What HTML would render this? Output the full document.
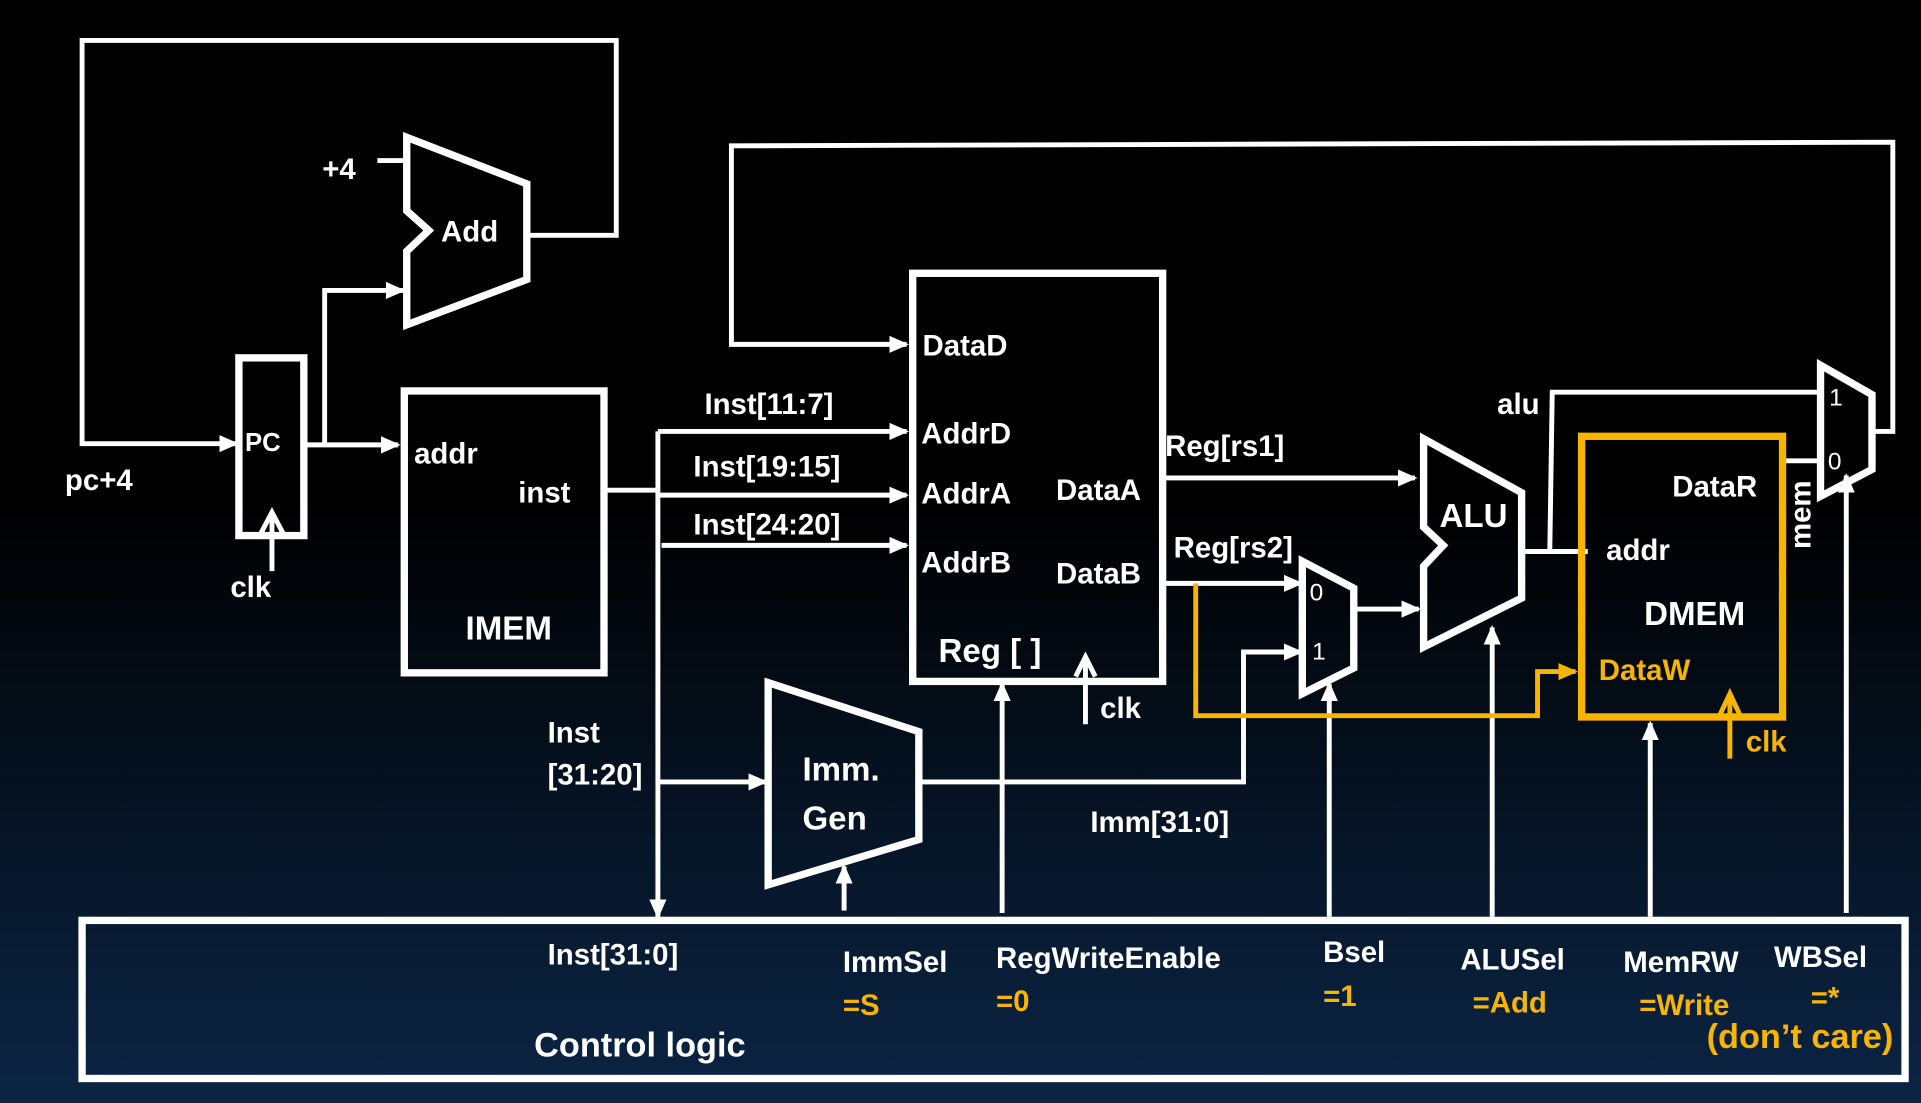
<!DOCTYPE html>
<html><head><meta charset="utf-8"><style>
html,body{margin:0;padding:0;background:#000;}
svg{display:block;}
text{font-family:"Liberation Sans",sans-serif;font-weight:bold;fill:#fff;font-size:24px;}
.o{fill:#f7b500;}
.n{font-weight:normal;font-size:20px;}
</style></head><body>
<svg width="1921" height="1103" viewBox="0 0 1568 900" preserveAspectRatio="none" xmlns="http://www.w3.org/2000/svg">
<defs>
<linearGradient id="bg" x1="0" y1="0" x2="0" y2="1">
<stop offset="0" stop-color="#000"/><stop offset="0.45" stop-color="#000"/><stop offset="1" stop-color="#0b2545"/></linearGradient>
<marker id="a" markerUnits="userSpaceOnUse" markerWidth="18" markerHeight="18" refX="14" refY="9" orient="auto"><path d="M0,2 L16,9 L0,16 Z" fill="#fff"/></marker>
<marker id="ao" markerUnits="userSpaceOnUse" markerWidth="18" markerHeight="18" refX="14" refY="9" orient="auto"><path d="M0,2 L16,9 L0,16 Z" fill="#f7b500"/></marker>
</defs>
<rect width="1568" height="900" fill="url(#bg)"/>
<g fill="none" stroke="#fff" stroke-width="4">
<polyline points="430,192 503,192 503,33 67,33 67,362 193,362" marker-end="url(#a)"/>
<polygon points="332,112 430,150 430,228 332,265 332,205 350,188 332,172" stroke-width="6"/>
<line x1="308" y1="131" x2="332" y2="131"/>
<rect x="195" y="292" width="53" height="145" stroke-width="6"/>
<polyline points="212,437 222,418 232,437"/>
<line x1="222" y1="420" x2="222" y2="466"/>
<line x1="248" y1="363" x2="325" y2="363" marker-end="url(#a)"/>
<polyline points="265,363 265,237 329,237" marker-end="url(#a)"/>
<rect x="330" y="319" width="163" height="230" stroke-width="6"/>
<line x1="493" y1="400" x2="537" y2="400"/>
<line x1="537" y1="352" x2="537" y2="748" marker-end="url(#a)"/>
<line x1="537" y1="352" x2="740" y2="352" marker-end="url(#a)"/>
<line x1="537" y1="404" x2="740" y2="404" marker-end="url(#a)"/>
<line x1="540" y1="445" x2="740" y2="445" marker-end="url(#a)"/>
<line x1="537" y1="638" x2="625" y2="638" marker-end="url(#a)"/>
<rect x="745" y="223" width="204" height="333" stroke-width="6"/>
<polyline points="878,552 886,536 894,552"/>
<line x1="886" y1="538" x2="886" y2="591"/>
<line x1="818" y1="745" x2="818" y2="558" marker-end="url(#a)"/>
<polyline points="1528,352 1545,352 1545,116 597,119 597,281 740,281" marker-end="url(#a)"/>
<line x1="949" y1="390" x2="1155" y2="390" marker-end="url(#a)"/>
<line x1="949" y1="476" x2="1062" y2="476" marker-end="url(#a)"/>
<polygon points="1063,458 1105,480 1105,545 1063,566" stroke-width="6"/>
<polyline points="752,638 1015,638 1015,532 1062,532" marker-end="url(#a)"/>
<line x1="1105" y1="497" x2="1158" y2="497" marker-end="url(#a)"/>
<line x1="1085" y1="748" x2="1085" y2="558" marker-end="url(#a)"/>
<polygon points="1162,358 1242,402 1242,488 1162,528 1162,462 1178,445 1162,430" stroke-width="6"/>
<line x1="1218" y1="748" x2="1218" y2="512" marker-end="url(#a)"/>
<line x1="1242" y1="450" x2="1296" y2="450"/>
<polyline points="1265,450 1267,320 1486,320"/>
<line x1="1455" y1="376" x2="1486" y2="376"/>
<polygon points="1486,298 1528,322 1528,383 1486,405" stroke-width="6"/>
<line x1="1507" y1="745" x2="1507" y2="388" marker-end="url(#a)"/>
<line x1="1347" y1="748" x2="1347" y2="590" marker-end="url(#a)"/>
<polygon points="627,557 750,597 750,685 627,722" stroke-width="6"/>
<line x1="689" y1="743" x2="689" y2="707" marker-end="url(#a)"/>
<rect x="67" y="751" width="1488" height="129" stroke-width="6"/>
</g>
<g fill="none" stroke="#f7b500" stroke-width="4">
<rect x="1291" y="356" width="164" height="229" stroke-width="6"/>
<polyline points="1404,583 1412,566 1420,583"/>
<line x1="1412" y1="568" x2="1412" y2="619"/>
<polyline points="976,476 976,584 1255,584 1255,548 1286,548" marker-end="url(#ao)"/>
</g>
<text x="360" y="197">Add</text>
<text x="263" y="146">+4</text>
<text x="53" y="400">pc+4</text>
<text x="200" y="368" style="font-size:21px">PC</text>
<text x="188" y="487">clk</text>
<text x="338" y="378">addr</text>
<text x="423" y="410">inst</text>
<text x="380" y="522" style="font-size:27px">IMEM</text>
<text x="575" y="338">Inst[11:7]</text>
<text x="566" y="389">Inst[19:15]</text>
<text x="566" y="436">Inst[24:20]</text>
<text x="447" y="606">Inst</text>
<text x="447" y="640">[31:20]</text>
<text x="753" y="290">DataD</text>
<text x="752" y="362">AddrD</text>
<text x="752" y="411">AddrA</text>
<text x="752" y="467">AddrB</text>
<text x="862" y="408">DataA</text>
<text x="862" y="476">DataB</text>
<text x="766" y="540" style="font-size:27px">Reg [ ]</text>
<text x="898" y="586">clk</text>
<text x="951" y="372">Reg[rs1]</text>
<text x="958" y="455">Reg[rs2]</text>
<text x="1069" y="490" class="n">0</text>
<text x="1071" y="538" class="n">1</text>
<text x="1175" y="430" style="font-size:27px">ALU</text>
<text x="1222" y="338">alu</text>
<text x="1365" y="405">DataR</text>
<text x="1311" y="457">addr</text>
<text x="1342" y="510" style="font-size:27px">DMEM</text>
<text x="1305" y="555" class="o">DataW</text>
<text x="1425" y="613" class="o">clk</text>
<text x="1493" y="331" class="n">1</text>
<text x="1492" y="383" class="n">0</text>
<text transform="translate(1478,448) rotate(-90)">mem</text>
<text x="655" y="637" style="font-size:27px">Imm.</text>
<text x="655" y="677" style="font-size:27px">Gen</text>
<text x="890" y="679">Imm[31:0]</text>
<text x="447" y="787">Inst[31:0]</text>
<text x="688" y="793">ImmSel</text>
<text x="688" y="828" class="o">=S</text>
<text x="813" y="790">RegWriteEnable</text>
<text x="813" y="825" class="o">=0</text>
<text x="1080" y="785">Bsel</text>
<text x="1080" y="821" class="o">=1</text>
<text x="1192" y="791">ALUSel</text>
<text x="1202" y="826" class="o">=Add</text>
<text x="1325" y="793">MemRW</text>
<text x="1338" y="828" class="o">=Write</text>
<text x="1448" y="789">WBSel</text>
<text x="1478" y="822" class="o">=*</text>
<text x="1393" y="855" class="o" style="font-size:28px">(don’t care)</text>
<text x="436" y="862" style="font-size:28px">Control logic</text>
</svg>
</body></html>
